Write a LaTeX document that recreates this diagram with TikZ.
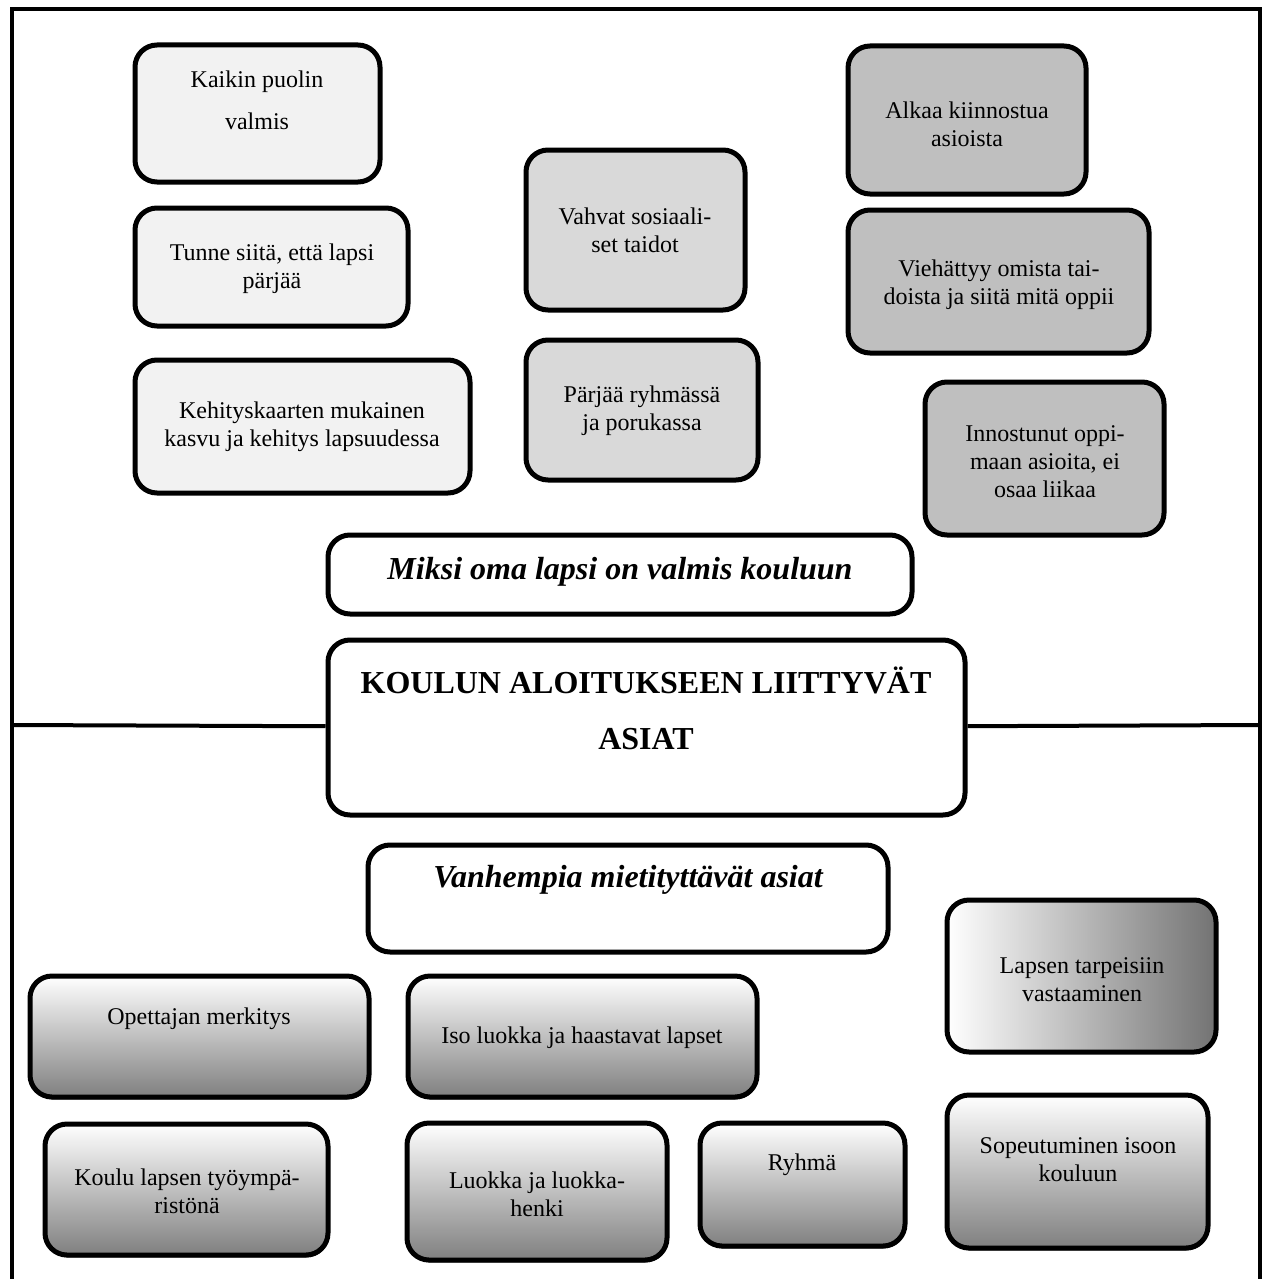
\documentclass[tikz,border=0pt]{standalone}
\usepackage{fontspec}
\setmainfont{Liberation Serif}
\usetikzlibrary{fit,shadows}

\tikzset{
  card/.style={draw, line width=2.5pt, rounded corners=11pt, inner sep=0pt},
  pale/.style={card, fill=black!5},
  mid/.style={card, fill=black!15},
  dark/.style={card, fill=black!25},
  plain/.style={card, fill=white},
  fade/.style={card, top color=white, bottom color=black!50,
    drop shadow={shadow xshift=0.4pt, shadow yshift=-1.2pt, fill=black, opacity=1}},
  sidefade/.style={card, left color=white, right color=black!55},
  txt/.style={align=center, font=\fontsize{12}{14}\selectfont},
  head/.style={align=center, font=\fontsize{16}{28}\selectfont\bfseries\itshape},
}

\begin{document}
\begin{tikzpicture}[x=0.5pt, y=-0.5pt]
	\useasboundingbox (0,0) rectangle (1268,1279);

	% frame
	\coordinate (fl) at (12,1279);
	\coordinate (fr) at (1260,1279);
	\coordinate (ml) at (12,725);
	\coordinate (mr) at (1260,725);
	\draw[line width=2pt] (fl) -- (12,9) -- (1260,9) -- (fr);

	% upper half
	\node[pale, fit={(135,45) (380,182)}] (kaikin) {};
	\node[txt, font=\fontsize{12}{21}\selectfont] at (257,100) (kaikin t) {Kaikin puolin\\valmis};
	\node[pale, fit={(135,208) (408,326)}] (tunne) {};
	\node[txt] at (272,269) (tunne t) {Tunne siitä, että lapsi\\pärjää};
	\node[pale, fit={(135,360) (470,493)}] (kehitys) {};
	\node[txt] at (302,427) (kehitys t) {Kehityskaarten mukainen\\kasvu ja kehitys lapsuudessa};

	\node[mid, fit={(526,150) (745,310)}] (vahvat) {};
	\node[txt] at (635,230) (vahvat t) {Vahvat sosiaali-\\set taidot};
	\node[mid, fit={(526,340) (758,480)}] (parjaa) {};
	\node[txt] at (642,411) (parjaa t) {Pärjää ryhmässä\\ja porukassa};

	\node[dark, fit={(848,46) (1086,194)}] (alkaa) {};
	\node[txt] at (967,124) (alkaa t) {Alkaa kiinnostua\\asioista};
	\node[dark, fit={(848,210) (1149,353)}] (viehattyy) {};
	\node[txt] at (999,285) (viehattyy t) {Viehättyy omista tai-\\doista ja siitä mitä oppii};
	\node[dark, fit={(925,382) (1164,535)}] (innostunut) {};
	\node[txt] at (1045,462) (innostunut t) {Innostunut oppi-\\maan asioita, ei\\osaa liikaa};

	\node[plain, fit={(328,535) (912,614)}] (miksi) {};
	\node[head] at (620,572) (miksi t) {Miksi oma lapsi on valmis kouluun};

	% centre
	\node[plain, fit={(328,640) (965,815)}] (title) {};
	\node[head, font=\fontsize{16}{28}\selectfont\bfseries] at (646,708) (title t) {KOULUN ALOITUKSEEN LIITTYVÄT\\ASIAT};
	\draw[line width=2pt] (ml) -- (title);
	\draw[line width=2pt] (title) -- (mr);

	% lower half
	\node[plain, fit={(368,845) (888,952)}] (vanhempia) {};
	\node[head] at (628,880) (vanhempia t) {Vanhempia mietityttävät asiat};

	\node[fade, fit={(30,976) (369,1097)}] (opettaja) {};
	\node[txt] at (199,1019) (opettaja t) {Opettajan merkitys};
	\node[fade, fit={(408,976) (757,1097)}] (iso) {};
	\node[txt] at (582,1038) (iso t) {Iso luokka ja haastavat lapset};
	\node[sidefade, fit={(947,900) (1216,1052)}] (tarpeet) {};
	\node[txt] at (1082,980) (tarpeet t) {Lapsen tarpeisiin\\vastaaminen};

	\node[fade, fit={(45,1124) (328,1255)}] (koulu) {};
	\node[txt] at (187,1191) (koulu t) {Koulu lapsen työympä-\\ristönä};
	\node[fade, fit={(407,1123) (667,1260)}] (luokka) {};
	\node[txt] at (537,1194) (luokka t) {Luokka ja luokka-\\henki};
	\node[fade, fit={(700,1123) (905,1246)}] (ryhma) {};
	\node[txt] at (802,1165) (ryhma t) {Ryhmä};
	\node[fade, fit={(947,1095) (1208,1248)}] (sopeutuminen) {};
	\node[txt] at (1078,1160) (sopeutuminen t) {Sopeutuminen isoon\\kouluun};
\end{tikzpicture}
\end{document}
